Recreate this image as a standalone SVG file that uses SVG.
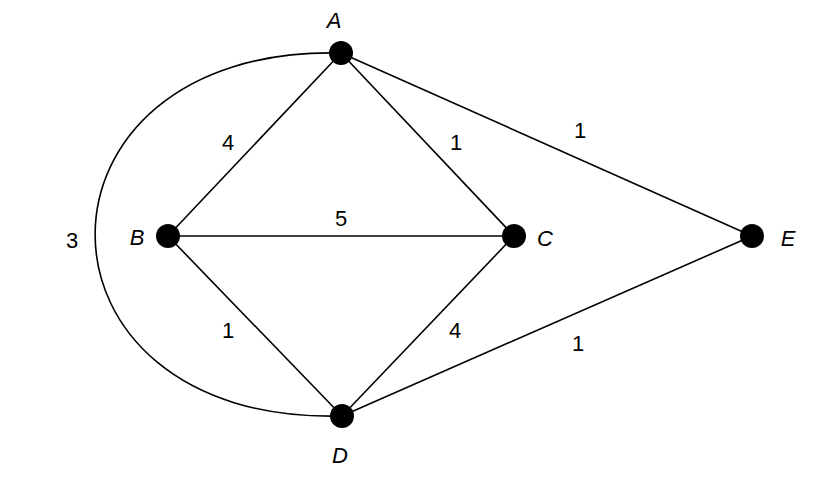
<svg xmlns="http://www.w3.org/2000/svg" width="824" height="478" viewBox="0 0 824 478">
<style>
.e{stroke:#000;stroke-width:1.6;fill:none}
.n{fill:#000}
text{font-family:"Liberation Sans",Arial,sans-serif;font-size:22px;fill:#000;text-anchor:middle;dominant-baseline:central}
.l{font-style:italic}
</style>
<rect width="824" height="478" fill="#fff"/>
<g id="edges">
<path class="e" d="M341,53 C13,45 13,425 342,416"/>
<line class="e" x1="341" y1="53" x2="168" y2="236"/>
<line class="e" x1="341" y1="53" x2="514" y2="236"/>
<line class="e" x1="341" y1="53" x2="752" y2="236"/>
<line class="e" x1="168" y1="236" x2="514" y2="236"/>
<line class="e" x1="168" y1="236" x2="342" y2="416"/>
<line class="e" x1="514" y1="236" x2="342" y2="416"/>
<line class="e" x1="342" y1="416" x2="752" y2="236"/>
<text x="228" y="142">4</text>
<text x="456" y="142">1</text>
<text x="580" y="130">1</text>
<text x="341" y="218">5</text>
<text x="72" y="240">3</text>
<text x="228" y="330">1</text>
<text x="455" y="330">4</text>
<text x="578" y="343">1</text>
</g>
<g id="A"><circle class="n" cx="341" cy="53" r="12"/><text class="l" x="334" y="20">A</text></g>
<g id="B"><circle class="n" cx="168" cy="236" r="12"/><text class="l" x="137" y="237">B</text></g>
<g id="C"><circle class="n" cx="514" cy="236" r="12"/><text class="l" x="545" y="238">C</text></g>
<g id="D"><circle class="n" cx="342" cy="416" r="12"/><text class="l" x="340" y="455">D</text></g>
<g id="E"><circle class="n" cx="752" cy="236" r="12"/><text class="l" x="788" y="238">E</text></g>
</svg>
